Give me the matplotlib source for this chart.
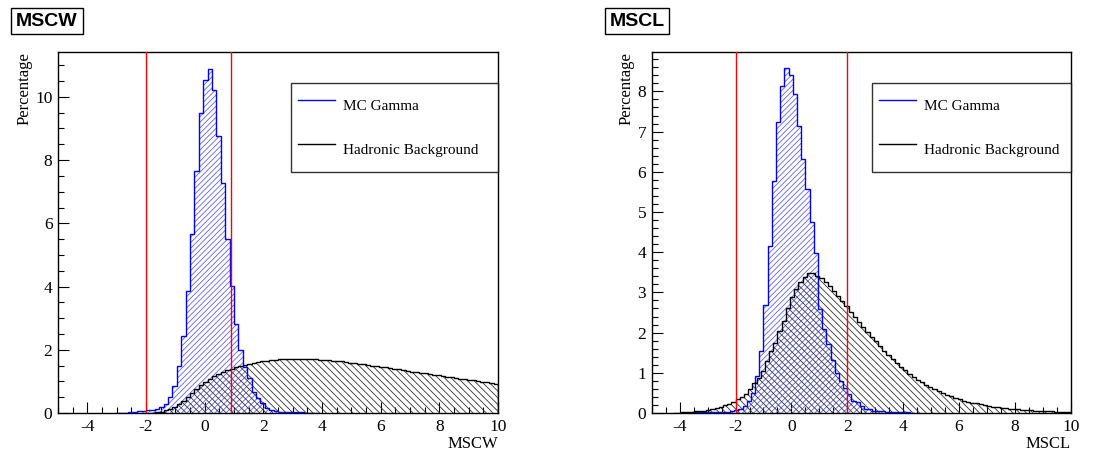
import matplotlib
matplotlib.use("Agg")
import matplotlib.pyplot as plt
import numpy as np
from matplotlib.ticker import MultipleLocator

plt.rcParams['font.family'] = ['Liberation Serif', 'DejaVu Serif']
plt.rcParams['hatch.linewidth'] = 0.6
plt.rcParams['axes.unicode_minus'] = False

# bins are 0.15 wide, lists start at the first non-empty bin
bin_w = 0.15

# MSCW - MC Gamma
mscw_gam_start = -3.05
mscw_gam = [0.01, 0.01, 0.01, 0.03, 0.04, 0.06, 0.07, 0.09, 0.10, 0.12,
            0.18, 0.28, 0.50, 0.85, 1.48, 2.42, 3.85, 5.65, 7.67, 9.48,
            10.52, 10.89, 10.22, 8.77, 7.27, 5.51, 4.01, 2.82, 1.99, 1.47,
            1.10, 0.67, 0.46, 0.31, 0.15, 0.08, 0.06, 0.04, 0.03, 0.03,
            0.02, 0.02, 0.02, 0.01, 0.01, 0.01]

# MSCW - Hadronic background
mscw_bkg_start = -1.85
mscw_bkg = [0.01, 0.02, 0.04, 0.08, 0.13, 0.19, 0.27, 0.37, 0.49, 0.62,
            0.75, 0.87, 0.98, 1.08, 1.16, 1.23, 1.29, 1.35, 1.40, 1.45,
            1.49, 1.53, 1.56, 1.59, 1.62, 1.64, 1.66, 1.68, 1.69, 1.70,
            1.71, 1.72, 1.72, 1.72, 1.72, 1.71, 1.71, 1.70, 1.69, 1.68,
            1.67, 1.66, 1.64, 1.63, 1.61, 1.59, 1.57, 1.56, 1.54, 1.52,
            1.50, 1.48, 1.46, 1.44, 1.42, 1.40, 1.38, 1.36, 1.34, 1.31,
            1.29, 1.27, 1.25, 1.23, 1.21, 1.19, 1.17, 1.15, 1.13, 1.11,
            1.09, 1.07, 1.05, 1.03, 1.01, 0.99, 0.97, 0.95, 0.93]

# MSCL - MC Gamma
mscl_gam_start = -3.85
mscl_gam = [0.01, 0.01, 0.015, 0.015, 0.02, 0.02, 0.02, 0.025, 0.03, 0.03,
            0.035, 0.04, 0.08, 0.10, 0.17, 0.29, 0.50, 0.92, 1.55, 2.69,
            4.15, 5.77, 7.24, 8.14, 8.58, 8.41, 7.93, 7.13, 6.33, 5.56,
            4.75, 3.97, 2.58, 2.08, 1.71, 1.33, 1.00, 0.79, 0.62, 0.46,
            0.29, 0.27, 0.17, 0.10, 0.09, 0.05, 0.04, 0.04, 0.03, 0.015,
            0.015, 0.015, 0.015, 0.015, 0.01]

# MSCL - Hadronic background
mscl_bkg_start = -4.25
mscl_bkg = [0.01, 0.01, 0.02, 0.02, 0.03, 0.04, 0.05, 0.06, 0.08, 0.10,
            0.12, 0.15, 0.19, 0.23, 0.28, 0.34, 0.40, 0.48, 0.59, 0.75,
            0.87, 1.05, 1.30, 1.55, 1.75, 2.05, 2.30, 2.60, 2.88, 3.08,
            3.27, 3.38, 3.48, 3.48, 3.42, 3.35, 3.26, 3.16, 3.04, 2.91,
            2.78, 2.65, 2.52, 2.40, 2.27, 2.14, 2.02, 1.90, 1.78, 1.66,
            1.55, 1.44, 1.34, 1.24, 1.15, 1.06, 0.98, 0.90, 0.83, 0.76,
            0.70, 0.64, 0.59, 0.54, 0.49, 0.45, 0.41, 0.37, 0.34, 0.31,
            0.28, 0.26, 0.24, 0.22, 0.20, 0.18, 0.16, 0.15, 0.13, 0.12,
            0.11, 0.10, 0.09, 0.08, 0.07, 0.07, 0.06, 0.05, 0.05, 0.04,
            0.04, 0.03, 0.03, 0.02, 0.02]

mscw_cuts = [-2.0, 0.9]
mscl_cuts = [-2.0, 2.0]


def edges(start, vals):
    return start + bin_w * np.arange(len(vals) + 1)


def draw_hist(ax, start, vals, color, hatch_color, hatch, z):
    e = edges(start, vals)
    ax.stairs(vals, e, fill=True, facecolor='none', edgecolor=hatch_color,
              hatch=hatch, linewidth=0, zorder=z)
    ax.stairs(vals, e, color=color, linewidth=1.0, baseline=0, zorder=z + 2)


def setup(ax, name, ymax, ymajor, yminor, cuts, leg_x):
    ax.set_xlim(-5, 10)
    ax.set_ylim(0, ymax)
    ax.xaxis.set_major_locator(MultipleLocator(2))
    ax.xaxis.set_minor_locator(MultipleLocator(0.5))
    ax.yaxis.set_major_locator(MultipleLocator(ymajor))
    ax.yaxis.set_minor_locator(MultipleLocator(yminor))
    ax.tick_params(which='both', direction='in', top=False, right=False,
                   labelsize=12.5, pad=4)
    ax.tick_params(which='major', length=8, width=0.8)
    ax.tick_params(which='minor', length=4, width=0.8)
    for c in cuts:
        ax.axvline(c, color='red', linewidth=1.0, zorder=6)
    ax.set_xlabel(name, fontsize=12, loc='right', labelpad=1)
    ax.set_ylabel('Percentage', fontsize=12, loc='top', labelpad=2)
    for s in ax.spines.values():
        s.set_linewidth(1.0)
    leg = ax.legend(loc='upper left', bbox_to_anchor=(leg_x, 0.915, 1.0 - leg_x, 0.0),
                    mode='expand', fontsize=11, frameon=True, fancybox=False,
                    borderpad=0.45, labelspacing=0.85, handleheight=2.75,
                    handlelength=2.45, handletextpad=0.5, borderaxespad=0.0)
    leg.get_frame().set_edgecolor('black')
    leg.get_frame().set_linewidth(1.0)
    leg.set_zorder(10)


fig = plt.figure(figsize=(11.09, 4.51), dpi=100)
ax1 = fig.add_axes([0.0523, 0.0843, 0.3967, 0.8004])
ax2 = fig.add_axes([0.5877, 0.0843, 0.3778, 0.8004])

# MSCW
draw_hist(ax1, mscw_gam_start, mscw_gam, 'blue', '#6060ff', '//////', 2)
draw_hist(ax1, mscw_bkg_start, mscw_bkg, 'black', '#333333', '\\\\\\\\\\', 3)
ax1.plot([], [], color='blue', linewidth=1.0, label='MC Gamma')
ax1.plot([], [], color='black', linewidth=1.0, label='Hadronic Background')
setup(ax1, 'MSCW', 11.42, 2, 0.5, mscw_cuts, 0.529)

# MSCL
draw_hist(ax2, mscl_gam_start, mscl_gam, 'blue', '#6060ff', '//////', 2)
draw_hist(ax2, mscl_bkg_start, mscl_bkg, 'black', '#333333', '\\\\\\\\\\', 3)
ax2.plot([], [], color='blue', linewidth=1.0, label='MC Gamma')
ax2.plot([], [], color='black', linewidth=1.0, label='Hadronic Background')
setup(ax2, 'MSCL', 8.98, 1, 0.2, mscl_cuts, 0.526)

# titles in boxes
box = dict(boxstyle='square,pad=0.25', facecolor='white', edgecolor='black', linewidth=1.0)
fig.text(47 / 1109, 1 - 21 / 451, 'MSCW', fontsize=14, fontweight='bold',
         family='Liberation Sans', ha='center', va='center', bbox=box)
fig.text(637 / 1109, 1 - 21 / 451, 'MSCL', fontsize=14, fontweight='bold',
         family='Liberation Sans', ha='center', va='center', bbox=box)

fig.savefig('out.png', dpi=100)
